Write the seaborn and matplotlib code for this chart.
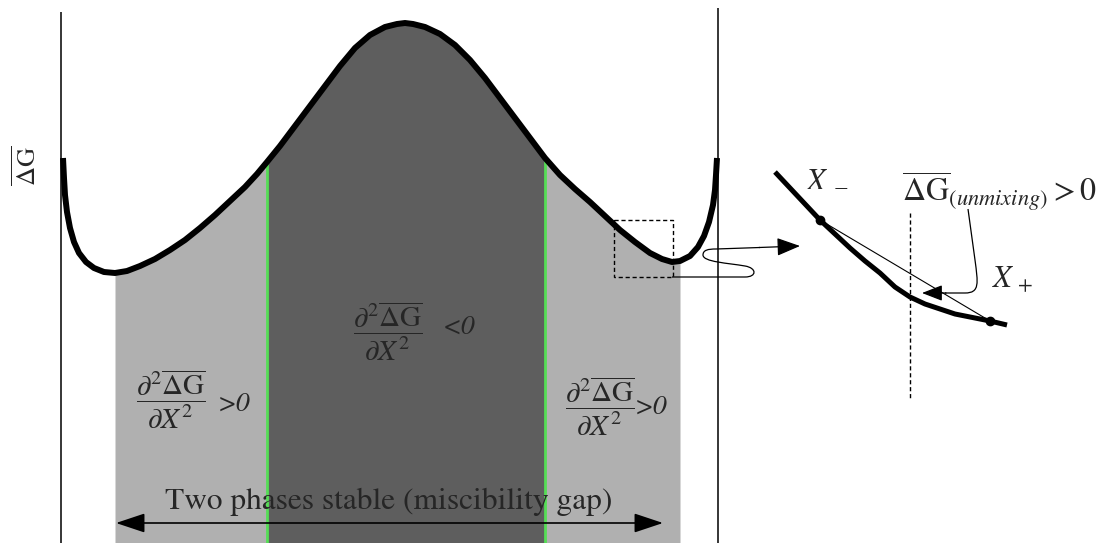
import numpy as np
import matplotlib
matplotlib.use("Agg")
import matplotlib.pyplot as plt
import seaborn as sns
from matplotlib.path import Path
from matplotlib.patches import Rectangle, FancyArrowPatch, PathPatch

# ---- free energy of mixing curve (horizontal position, ΔG in screen units; down = lower G)
mix_x = [63, 64, 65, 67, 70, 74, 79, 86, 94, 104, 115, 127, 140, 155, 170, 185, 200,
         215, 230, 245, 257, 267, 280, 295, 310, 325, 340, 355, 370, 385, 397, 405,
         413, 425, 440, 455, 470, 485, 500, 515, 530, 545, 560, 575, 590, 605, 620,
         635, 650, 662, 672, 680, 690, 698, 704, 709, 713, 715, 716, 717]
mix_g = [158, 178, 195, 212, 228, 242, 253, 262, 268, 272, 273, 271, 266, 259, 250, 240, 228,
         215, 201, 187, 174, 162, 146, 126, 106, 86, 66, 48, 35, 27, 24, 23,
         24, 27, 34, 45, 60, 78, 98, 118, 138, 158, 175, 189, 202, 216, 230,
         242, 253, 259, 262, 261, 256, 247, 236, 222, 205, 190, 175, 158]

# region boundaries along the composition axis
wall_left, wall_right = 61, 718
gap_left, gap_right = 115, 680          # miscibility gap (common tangent points)
spin_left, spin_right = 267, 545        # spinodal points (inflections)

# ---- magnified detail of the curve near the right minimum
detail_x = [775, 790, 805, 820, 835, 850, 865, 880, 895, 910, 925, 940, 955, 970, 990, 1007]
detail_g = [172, 188, 204, 220, 234, 248, 261, 273, 287, 297, 304, 309, 314, 317, 321, 325]
tangent_x = [820, 990]                   # X_- and X_+
tangent_g = [220, 321]

LIGHT = "#b0b0b0"
DARK = "#5e5e5e"
GREEN = "#55dd55"

sns.set_theme(style="white")
plt.rcParams["mathtext.fontset"] = "stix"
plt.rcParams["font.family"] = ["STIXGeneral", "DejaVu Serif"]

fig = plt.figure(figsize=(11.06, 5.43), dpi=100)
ax = fig.add_axes([0, 0, 1, 1])
ax.set_xlim(0, 1106)
ax.set_ylim(543, 0)
ax.axis("off")

mx = np.array(mix_x, dtype=float)
mg = np.array(mix_g, dtype=float)
bottom = 543

# shaded stability regions beneath the curve
sel = (mx >= gap_left) & (mx <= gap_right)
ax.fill_between(mx[sel], mg[sel], bottom, color=LIGHT, lw=0, zorder=1)
sel = (mx >= spin_left) & (mx <= spin_right)
ax.fill_between(mx[sel], mg[sel], bottom, color=DARK, lw=0, zorder=2)

# spinodal markers
for xs in (spin_left, spin_right):
    ax.vlines(xs, np.interp(xs, mx, mg), bottom, color=GREEN, lw=2, zorder=3)

# pure-component walls
ax.vlines(wall_left, 12, bottom, color="black", lw=1.1, zorder=3)
ax.vlines(wall_right, 8, bottom, color="black", lw=1.1, zorder=3)

# ΔG(X) curve
sns.lineplot(x=mix_x, y=mix_g, sort=False, estimator=None, color="black",
             linewidth=4.3, ax=ax, zorder=5)
ax.lines[-1].set_solid_capstyle("butt")

# axis label
ax.text(27, 166, r"$\overline{\Delta\mathrm{G}}$", rotation=90, fontsize=19,
        ha="center", va="center")

# curvature labels
frac = r"$\dfrac{\partial^2\overline{\Delta\mathrm{G}}}{\partial X^2}$"
ax.text(171, 399, frac, fontsize=21, ha="center", va="center", zorder=6)
ax.text(218, 404, ">0", fontsize=20, style="italic", ha="left", va="center", zorder=6)
ax.text(388, 331, frac, fontsize=21, ha="center", va="center", zorder=6)
ax.text(443, 327, "<0", fontsize=20, style="italic", ha="left", va="center", zorder=6)
ax.text(600, 406, frac, fontsize=21, ha="center", va="center", zorder=6)
ax.text(635, 407, ">0", fontsize=20, style="italic", ha="left", va="center", zorder=6)

# miscibility gap arrow
ax.text(389, 509, "Two phases stable (miscibility gap)", fontsize=22.6,
        ha="center", va="baseline", zorder=6)
ax.annotate("", xy=(116, 523), xytext=(663, 523),
            arrowprops=dict(arrowstyle="<|-|>,head_length=0.9,head_width=0.3",
                            color="black", lw=1.2, mutation_scale=20,
                            shrinkA=0, shrinkB=0), zorder=6)

# magnifier box and looping pointer
ax.add_patch(Rectangle((614, 220), 59, 57, fill=False, ec="black", lw=1,
                       ls=(0, (3, 2)), zorder=6))
loop = Path([(672, 277), (745, 277),
             (757, 277), (757, 268), (745, 266),
             (728, 263), (703, 262), (703, 255),
             (703, 250), (708, 249), (716, 249),
             (760, 247.5)],
            [Path.MOVETO, Path.LINETO,
             Path.CURVE4, Path.CURVE4, Path.CURVE4,
             Path.CURVE4, Path.CURVE4, Path.CURVE4,
             Path.CURVE4, Path.CURVE4, Path.CURVE4,
             Path.LINETO])
ax.add_patch(PathPatch(loop, fill=False, ec="black", lw=0.9, zorder=6))
ax.annotate("", xy=(800, 246), xytext=(759, 247.5),
            arrowprops=dict(arrowstyle="-|>,head_length=0.9,head_width=0.35",
                            color="black", lw=0.9, mutation_scale=16,
                            shrinkA=0, shrinkB=0), zorder=6)

# magnified detail
sns.lineplot(x=detail_x, y=detail_g, sort=False, estimator=None, color="black",
             linewidth=3.6, ax=ax, zorder=5)
ax.lines[-1].set_solid_capstyle("butt")
ax.plot(tangent_x, tangent_g, color="black", lw=0.8, zorder=5)
ax.plot(tangent_x, tangent_g, "o", color="black", ms=6, zorder=6)
ax.vlines(910, 213, 398, color="black", lw=1, ls=(0, (3, 2)), zorder=4)

ax.text(806, 186, r"$X_{\,\,-}$", fontsize=22, ha="left", va="baseline")
ax.text(992, 288, r"$X_{\,+}$", fontsize=22, ha="left", va="baseline")
ax.text(902, 202, r"$\overline{\Delta\mathrm{G}}_{(\mathit{unmixing})}>0$", fontsize=23,
        ha="left", va="baseline")

lead = Path([(968, 209), (975, 260),
             (978, 283), (980, 293), (965, 293),
             (945, 293)],
            [Path.MOVETO, Path.LINETO,
             Path.CURVE4, Path.CURVE4, Path.CURVE4,
             Path.LINETO])
ax.add_patch(PathPatch(lead, fill=False, ec="black", lw=0.9, zorder=6))
ax.annotate("", xy=(922, 293), xytext=(946, 293),
            arrowprops=dict(arrowstyle="-|>,head_length=0.9,head_width=0.35",
                            color="black", lw=0.9, mutation_scale=14,
                            shrinkA=0, shrinkB=0), zorder=6)

fig.savefig("out.png", dpi=100)
